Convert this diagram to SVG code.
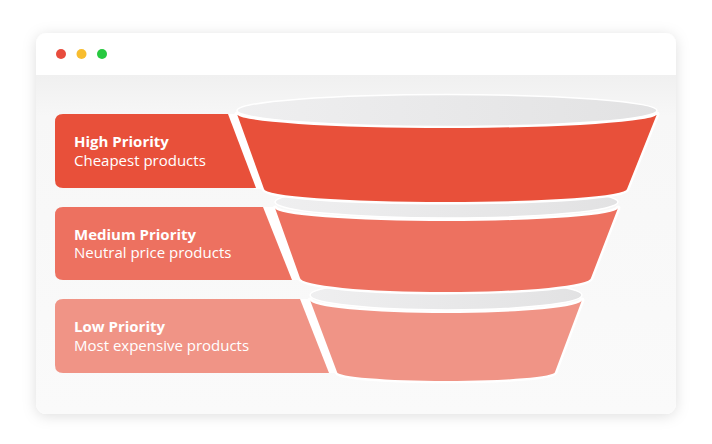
<svg xmlns="http://www.w3.org/2000/svg" width="712" height="444" viewBox="0 0 712 444">
  <defs>
    <filter id="shadow" x="-10%" y="-10%" width="120%" height="125%">
      <feDropShadow dx="0" dy="2" stdDeviation="7" flood-color="#000" flood-opacity="0.13"/>
    </filter>
    <linearGradient id="body" x1="0" y1="0" x2="0" y2="1">
      <stop offset="0" stop-color="#f0f0f0"/>
      <stop offset="0.12" stop-color="#f7f7f7"/>
      <stop offset="1" stop-color="#fafafa"/>
    </linearGradient>
    <linearGradient id="rim" x1="0" y1="0" x2="1" y2="0">
      <stop offset="0" stop-color="#efeff0"/>
      <stop offset="1" stop-color="#e2e2e3"/>
    </linearGradient>
    <clipPath id="cardClip">
      <rect x="36" y="33" width="640" height="381" rx="11"/>
    </clipPath>
    <style>
      .t1 { font-family: "Open Sans", "Liberation Sans", sans-serif; font-weight: 700; font-size: 15px; fill: #ffffff; }
      .t2 { font-family: "Open Sans", "Liberation Sans", sans-serif; font-weight: 400; font-size: 15px; fill: #ffffff; }
      .seg { stroke: #ffffff; stroke-width: 5; paint-order: stroke; stroke-linejoin: round; }
      .rimE { fill: url(#rim); stroke: #ffffff; stroke-width: 1.5; }
      .gap { fill: #ffffff; }
      .c1 { fill: #e8503a; }
      .c2 { fill: #ed7160; }
      .c3 { fill: #f09486; }
    </style>
  </defs>

  <g id="window">
    <rect x="36" y="33" width="640" height="381" rx="11" fill="#ffffff" filter="url(#shadow)"/>
    <g clip-path="url(#cardClip)">
      <rect x="36" y="75" width="640" height="339" fill="url(#body)"/>
    </g>
    <circle cx="61" cy="54" r="5" fill="#e84c3d"/>
    <circle cx="81.5" cy="54" r="5" fill="#f8bd2f"/>
    <circle cx="102" cy="54" r="5" fill="#27c940"/>
  </g>

  <g id="connectors"></g>

  <g id="node-low">
    <polygon class="gap" points="298,299 312,299 339,373 327,373"/>
    <path class="c3" d="M55,307 Q55,299 63,299 L300,299 L329,373 L63,373 Q55,373 55,365 Z"/>
    <path class="c3 seg" d="M310,300 A136 13 0 0 0 582,300 L555,372 A109 9 0 0 1 337,372 Z"/>
    <ellipse class="rimE" cx="446" cy="295" rx="136" ry="15"/>
    <text class="t1" x="74" y="332">Low Priority</text>
    <text class="t2" x="74" y="350.5">Most expensive products</text>
  </g>

  <g id="node-medium">
    <polygon class="gap" points="261,207 277,207 302,280 290,280"/>
    <path class="c2" d="M55,215 Q55,207 63,207 L263,207 L292,280 L63,280 Q55,280 55,272 Z"/>
    <path class="c2 seg" d="M275,208 A171.5 13 0 0 0 618,208 L591,278 A145.5 14 0 0 1 300,278 Z"/>
    <ellipse class="rimE" cx="446.5" cy="202" rx="171.5" ry="16"/>
    <text class="t1" x="74" y="239.5">Medium Priority</text>
    <text class="t2" x="74" y="257.5">Neutral price products</text>
  </g>

  <g id="node-high">
    <polygon class="gap" points="226,114 239,114 266,189 254,189"/>
    <path class="c1" d="M55,122 Q55,114 63,114 L228,114 L256,188 L63,188 Q55,188 55,180 Z"/>
    <path class="c1 seg" d="M237,114 A210 14 0 0 0 657,114 L627,189 A181.5 13 0 0 1 264,189 Z"/>
    <ellipse class="rimE" cx="447" cy="110.5" rx="210" ry="16"/>
    <text class="t1" x="74" y="147">High Priority</text>
    <text class="t2" x="74" y="165.5">Cheapest products</text>
  </g>
</svg>
